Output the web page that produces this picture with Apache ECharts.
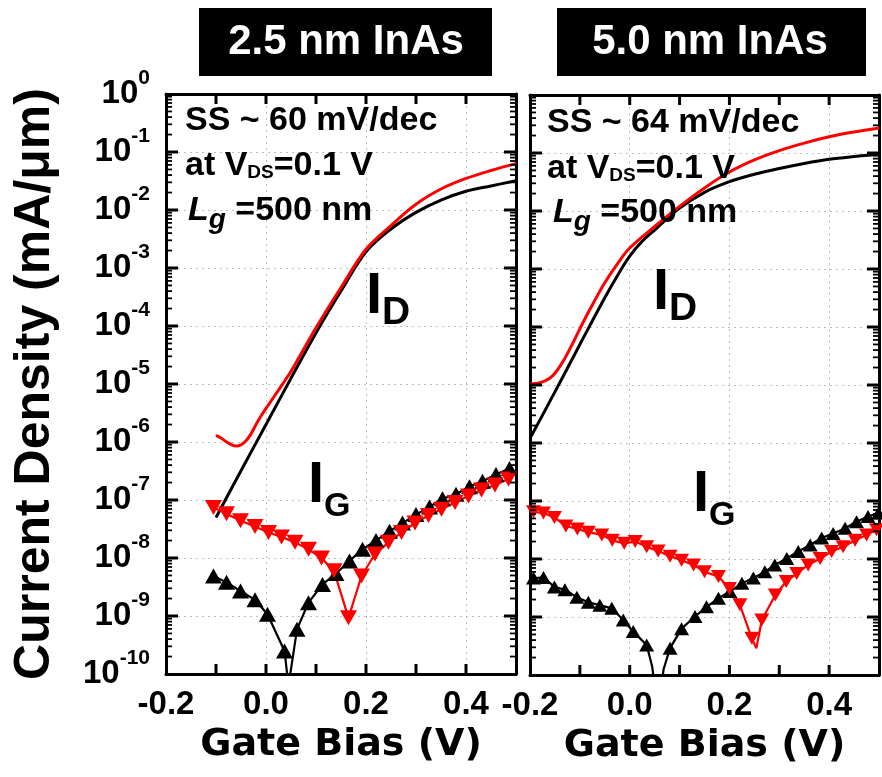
<!DOCTYPE html>
<html><head><meta charset="utf-8">
<script src="https://cdn.jsdelivr.net/npm/echarts@6/dist/echarts.min.js"></script>
<style>html,body{margin:0;padding:0;background:#fff}#c{width:882px;height:777px}</style>
</head><body><div id="c"></div>
<script>
// ---------- 2.5 nm InAs (left panel) ----------
const idBlackX25 = [-0.1,-0.05,0,0.05,0.1,0.15,0.2,0.25,0.3,0.35,0.4,0.45,0.5];
const idBlackY25 = [5.0e-8,3.2e-7,2.0e-6,1.26e-5,7.6e-5,4.0e-4,1.9e-3,4.7e-3,9.1e-3,1.48e-2,2.1e-2,2.6e-2,3.2e-2];
const idRedX25 = [-0.1,-0.09,-0.08,-0.07,-0.06,-0.05,-0.04,-0.03,-0.02,-0.01,0,0.02,0.05,0.1,0.15,0.2,0.25,0.3,0.35,0.4,0.45,0.5];
const idRedY25 = [1.3e-6,1.17e-6,1.02e-6,9.1e-7,8.5e-7,8.9e-7,1.05e-6,1.38e-6,2.0e-6,2.8e-6,3.8e-6,6.8e-6,1.66e-5,9.3e-5,4.6e-4,2.1e-3,5.4e-3,1.26e-2,2.3e-2,3.5e-2,4.8e-2,6.3e-2];
const igBlackX25 = [-0.105,-0.079,-0.051,-0.022,0.003,0.037,0.062,0.085,0.113,0.14,0.167,0.193,0.22,0.247,0.273,0.3,0.327,0.353,0.38,0.407,0.433,0.46,0.487];
const igBlackY25 = [4.9e-9,3.8e-9,2.7e-9,1.9e-9,1.07e-9,2.5e-10,5.9e-10,1.7e-9,3.5e-9,5.4e-9,8.9e-9,1.41e-8,2.0e-8,2.9e-8,4.0e-8,5.6e-8,7.6e-8,1.05e-7,1.26e-7,1.7e-7,2.1e-7,2.75e-7,3.5e-7];
const igBlackDipX25 = [0.045];
const igBlackDipY25 = [6.3e-11];
const igRedX25 = [-0.105,-0.079,-0.051,-0.022,0.005,0.031,0.058,0.085,0.111,0.136,0.165,0.191,0.218,0.245,0.271,0.298,0.325,0.351,0.378,0.405,0.431,0.458,0.485];
const igRedY25 = [7.4e-8,5.8e-8,4.4e-8,3.5e-8,2.75e-8,2.3e-8,1.86e-8,1.41e-8,1.0e-8,6.0e-9,9.3e-10,4.9e-9,1.17e-8,1.86e-8,2.75e-8,4.0e-8,5.4e-8,6.9e-8,9.1e-8,1.17e-7,1.48e-7,1.82e-7,2.3e-7];

// ---------- 5.0 nm InAs (right panel) ----------
const idBlackX50 = [-0.2,-0.15,-0.1,-0.05,-0.025,0,0.025,0.05,0.1,0.15,0.2,0.25,0.3,0.35,0.4,0.45,0.5];
const idBlackY50 = [1.2e-6,7.6e-6,5.0e-5,3.2e-4,7.6e-4,1.66e-3,3.0e-3,4.7e-3,1.12e-2,2.1e-2,3.2e-2,4.3e-2,5.4e-2,6.6e-2,7.8e-2,8.7e-2,9.5e-2];
const idRedX50 = [-0.2,-0.19,-0.18,-0.17,-0.16,-0.15,-0.14,-0.13,-0.12,-0.11,-0.1,-0.08,-0.05,-0.02,0,0.05,0.1,0.15,0.2,0.25,0.3,0.35,0.4,0.45,0.5];
const idRedY50 = [1.05e-5,1.06e-5,1.1e-5,1.18e-5,1.32e-5,1.6e-5,2.1e-5,2.9e-5,4.2e-5,6.2e-5,9.3e-5,2.0e-4,5.8e-4,1.4e-3,2.3e-3,5.4e-3,1.2e-2,2.5e-2,4.7e-2,7.6e-2,1.1e-1,1.48e-1,1.9e-1,2.3e-1,2.7e-1];
const igBlackX50 = [-0.193,-0.173,-0.151,-0.13,-0.106,-0.083,-0.06,-0.036,-0.013,0.007,0.034,0.081,0.104,0.131,0.154,0.178,0.201,0.225,0.248,0.271,0.291,0.315,0.338,0.362,0.385,0.408,0.432,0.455,0.478,0.499];
const igBlackY50 = [4.7e-9,4.8e-9,3.3e-9,2.95e-9,2.2e-9,1.8e-9,1.6e-9,1.41e-9,8.9e-10,5.6e-10,3.3e-10,2.9e-10,6.3e-10,1.02e-9,1.5e-9,2.1e-9,2.75e-9,3.8e-9,4.7e-9,6.0e-9,7.9e-9,1.02e-8,1.35e-8,1.74e-8,2.3e-8,2.75e-8,3.4e-8,4.4e-8,5.4e-8,6.2e-8];
const igBlackDipX50 = [0.045,0.057,0.068];
const igBlackDipY50 = [1.4e-10,2.5e-11,1.26e-10];
const igRedX50 = [-0.193,-0.173,-0.151,-0.128,-0.105,-0.083,-0.056,-0.035,-0.011,0.011,0.034,0.057,0.081,0.104,0.128,0.15,0.178,0.2,0.221,0.245,0.265,0.292,0.314,0.335,0.358,0.382,0.405,0.428,0.452,0.475,0.495];
const igRedY50 = [6.5e-8,6.2e-8,5.2e-8,3.7e-8,3.3e-8,2.9e-8,2.6e-8,2.1e-8,1.86e-8,2.0e-8,1.62e-8,1.38e-8,1.12e-8,9.5e-9,7.9e-9,6.0e-9,5.0e-9,3.1e-9,1.62e-9,4.3e-10,8.9e-10,2.4e-9,4.1e-9,5.6e-9,7.9e-9,1.02e-8,1.35e-8,1.62e-8,2.1e-8,2.6e-8,3.2e-8];
const igRedDipX50 = [0.254];
const igRedDipY50 = [2.9e-10];

// ---------- axis ticks / text ----------
const xTickVals = [-0.1, 0, 0.1, 0.2, 0.3, 0.4];
const xTickLabels = ['-0.2','0.0','0.2','0.4'];
const yDecadeExps = [-9,-8,-7,-6,-5,-4,-3,-2,-1];
const yMinorMults = [2,3,4,5,6,7,8,9];
const panelTitles = ['2.5 nm InAs','5.0 nm InAs'];
const ssTexts = ['SS ~ 60 mV/dec','SS ~ 64 mV/dec'];
const yName = 'Current Density (mA/\u03bcm)';
const xName = 'Gate Bias (V)';

const FONT = '"Liberation Sans", Arial, Helvetica, sans-serif';
const WIDE = '"DejaVu Sans", "Liberation Sans", sans-serif';
const X_MIN = -0.2, X_MAX = 0.5, Y_MIN = 1e-10, Y_MAX = 1;

function zip(xs, ys) { return xs.map((x, i) => [x, ys[i]]); }
function merged(xs, ys, dx, dy) {
  return zip(xs, ys).concat(zip(dx, dy)).sort((a, b) => a[0] - b[0]);
}
const yMajorVals = yDecadeExps.map(e => +Math.pow(10, e).toPrecision(3));
const yMinorVals = [];
for (let d = -10; d < 0; d++) yMinorMults.forEach(k => yMinorVals.push(+(k * Math.pow(10, d)).toPrecision(3)));

const black = '#000000', red = '#ff0000';
const frameLine = () => ({ show: true, onZero: false, lineStyle: { color: black, width: 3 } });
const gridLine = () => ({ show: true, lineStyle: { color: '#bdbdbd', type: [2, 4], width: 1 } });

function xAxes(g) {
  return [
    {
      gridIndex: g, type: 'value', min: X_MIN, max: X_MAX, interval: 0.2, position: 'bottom',
      axisLine: frameLine(), axisTick: { show: false }, splitLine: gridLine(),
      name: xName, nameLocation: 'middle', nameGap: 44,
      nameTextStyle: { fontFamily: WIDE, fontWeight: 'bold', fontSize: 38, color: black },
      axisLabel: {
        show: true, margin: 14, showMaxLabel: false,
        fontFamily: FONT, fontWeight: 'bold', fontSize: 33, color: black,
        formatter: v => {
          const r = Math.round(v * 10) / 10;
          const idx = xTickLabels.indexOf((Math.abs(r) < 1e-9 ? 0 : r).toFixed(1));
          return idx >= 0 ? xTickLabels[idx] : '';
        }
      }
    },
    {
      gridIndex: g, type: 'value', min: X_MIN, max: X_MAX, interval: 0.2, position: 'top',
      axisLine: frameLine(), axisTick: { show: false },
      splitLine: { show: false }, axisLabel: { show: false }
    }
  ];
}

function yAxes(g) {
  const base = () => ({ gridIndex: g, type: 'log', logBase: 10, min: Y_MIN, max: Y_MAX, interval: 1 });
  return [
    Object.assign(base(), {
      position: 'left',
      name: g === 0 ? yName : '', nameLocation: 'middle', nameGap: 106, nameRotate: 90,
      nameTextStyle: { fontFamily: FONT, fontWeight: 'bold', fontSize: 50, color: black },
      axisLine: frameLine(), axisTick: { show: false }, splitLine: gridLine(),
      axisLabel: {
        show: g === 0, margin: 16, align: 'right',
        formatter: v => '{b|10}{s|' + Math.round(Math.log10(v)) + '}',
        rich: {
          b: { fontFamily: FONT, fontWeight: 'bold', fontSize: 33, lineHeight: 33, color: black, verticalAlign: 'middle' },
          s: { fontFamily: FONT, fontWeight: 'bold', fontSize: 21, lineHeight: 21, color: black, verticalAlign: 'middle', padding: [0, 0, 32, 0] }
        }
      }
    }),
    Object.assign(base(), {
      position: 'right', axisLine: frameLine(), axisTick: { show: false },
      splitLine: { show: false }, axisLabel: { show: false }
    })
  ];
}

// Tick marks drawn inward from all four frame sides, positioned through the axes' own scales.
function tickSeries(xi, yi) {
  const seg = (x1, y1, x2, y2, w) => ({ type: 'line', shape: { x1, y1, x2, y2 }, style: { stroke: black, lineWidth: w } });
  return [
    {
      type: 'custom', xAxisIndex: xi, yAxisIndex: yi, clip: false, silent: true, z: 6,
      data: xTickVals.map(v => [v, Y_MIN]),
      renderItem: (p, api) => {
        const v = api.value(0);
        const b = api.coord([v, Y_MIN]), t = api.coord([v, Y_MAX]);
        return { type: 'group', children: [seg(b[0], b[1], b[0], b[1] - 10, 3), seg(t[0], t[1], t[0], t[1] + 10, 3)] };
      }
    },
    {
      type: 'custom', xAxisIndex: xi, yAxisIndex: yi, clip: false, silent: true, z: 6,
      data: yMajorVals.map(v => [X_MIN, v]),
      renderItem: (p, api) => {
        const v = api.value(1);
        const l = api.coord([X_MIN, v]), r = api.coord([X_MAX, v]);
        return { type: 'group', children: [seg(l[0], l[1], l[0] + 12, l[1], 3), seg(r[0], r[1], r[0] - 12, r[1], 3)] };
      }
    },
    {
      type: 'custom', xAxisIndex: xi, yAxisIndex: yi, clip: false, silent: true, z: 6,
      data: yMinorVals.map(v => [X_MIN, v]),
      renderItem: (p, api) => {
        const v = api.value(1);
        const l = api.coord([X_MIN, v]), r = api.coord([X_MAX, v]);
        return { type: 'group', children: [seg(l[0], l[1], l[0] + 6, l[1], 1.8), seg(r[0], r[1], r[0] - 6, r[1], 1.8)] };
      }
    }
  ];
}

function panelSeries(g, d, symSize) {
  const xi = g * 2, yi = g * 2;
  const ln = (data, color, width, smooth) => ({
    type: 'line', xAxisIndex: xi, yAxisIndex: yi, data, showSymbol: false, symbol: 'none',
    smooth, clip: true, lineStyle: { color, width }, itemStyle: { color }, z: 3
  });
  const sc = (data, color, rot) => ({
    type: 'scatter', xAxisIndex: xi, yAxisIndex: yi, data, symbol: 'triangle',
    symbolRotate: rot, symbolSize: symSize, itemStyle: { color, opacity: 1 }, clip: true, z: 4
  });
  return [
    ln(d.idB, black, 3, 0.35),
    ln(d.idR, red, 3, 0.35),
    ln(d.igBl, black, 2.2, false),
    sc(d.igB, black, 0),
    ln(d.igRl, red, 2.2, false),
    sc(d.igR, red, 180)
  ].concat(tickSeries(xi, yi));
}

const p25 = {
  idB: zip(idBlackX25, idBlackY25), idR: zip(idRedX25, idRedY25),
  igBl: merged(igBlackX25, igBlackY25, igBlackDipX25, igBlackDipY25), igB: zip(igBlackX25, igBlackY25),
  igRl: zip(igRedX25, igRedY25), igR: zip(igRedX25, igRedY25)
};
const p50 = {
  idB: zip(idBlackX50, idBlackY50), idR: zip(idRedX50, idRedY50),
  igBl: merged(igBlackX50, igBlackY50, igBlackDipX50, igBlackDipY50), igB: zip(igBlackX50, igBlackY50),
  igRl: merged(igRedX50, igRedY50, igRedDipX50, igRedDipY50), igR: zip(igRedX50, igRedY50)
};

function txt(x, y, text, rich, extra) {
  return {
    type: 'text', x, y, z: 100, silent: true,
    style: Object.assign({ text, rich, fill: black, align: 'left', verticalAlign: 'middle',
      fontFamily: FONT, fontWeight: 'bold', fontSize: 34 }, extra || {})
  };
}
const annRich = {
  a: { fontFamily: FONT, fontWeight: 'bold', fontSize: 34, lineHeight: 34, verticalAlign: 'middle', fill: black },
  b: { fontFamily: FONT, fontWeight: 'bold', fontSize: 19, lineHeight: 19, verticalAlign: 'middle', padding: [13, 0, 0, 0], fill: black },
  l: { fontFamily: FONT, fontWeight: 'bold', fontStyle: 'italic', fontSize: 34, lineHeight: 34, verticalAlign: 'middle', fill: black },
  g: { fontFamily: FONT, fontWeight: 'bold', fontStyle: 'italic', fontSize: 28, lineHeight: 28, verticalAlign: 'middle', padding: [18, 0, 0, 0], fill: black }
};
const iRich = {
  i: { fontFamily: FONT, fontWeight: 'bold', fontSize: 58, lineHeight: 58, verticalAlign: 'middle', fill: black },
  d: { fontFamily: FONT, fontWeight: 'bold', fontSize: 39, lineHeight: 39, verticalAlign: 'middle', padding: [33, 0, 0, 0], fill: black },
  g: { fontFamily: FONT, fontWeight: 'bold', fontSize: 34, lineHeight: 34, verticalAlign: 'middle', padding: [41, 0, 0, 0], fill: black }
};

const graphics = [
  { type: 'rect', shape: { x: 199, y: 8, width: 293, height: 68 }, style: { fill: black }, z: 90 },
  { type: 'rect', shape: { x: 557, y: 8, width: 309, height: 68 }, style: { fill: black }, z: 90 },
  txt(346, 42, panelTitles[0], null, { fill: '#fff', align: 'center', fontSize: 42 }),
  txt(710, 42, panelTitles[1], null, { fill: '#fff', align: 'center', fontSize: 42 }),
  txt(185, 121, ssTexts[0]),
  txt(185, 166, '{a|at V}{b|DS}{a|=0.1 V}', annRich),
  txt(188, 211, '{l|L}{g|g}{a| =500 nm}', annRich),
  txt(547, 123, ssTexts[1]),
  txt(547, 169, '{a|at V}{b|DS}{a|=0.1 V}', annRich),
  txt(553, 213, '{l|L}{g|g}{a| =500 nm}', annRich),
  txt(366, 297, '{i|I}{d|D}', iRich),
  txt(653, 293, '{i|I}{d|D}', iRich),
  txt(308, 486, '{i|I}{g|G}', iRich),
  txt(693, 495, '{i|I}{g|G}', iRich)
];

const chart = echarts.init(document.getElementById('c'), null, { renderer: 'canvas' });
chart.setOption({
  animation: false,
  backgroundColor: '#ffffff',
  grid: [
    { left: 166, top: 94, width: 350, height: 580 },
    { left: 530, top: 95, width: 349, height: 580 }
  ],
  xAxis: xAxes(0).concat(xAxes(1)),
  yAxis: yAxes(0).concat(yAxes(1)),
  series: panelSeries(0, p25, [17, 15]).concat(panelSeries(1, p50, [15, 13])),
  graphic: graphics
});
</script></body></html>
